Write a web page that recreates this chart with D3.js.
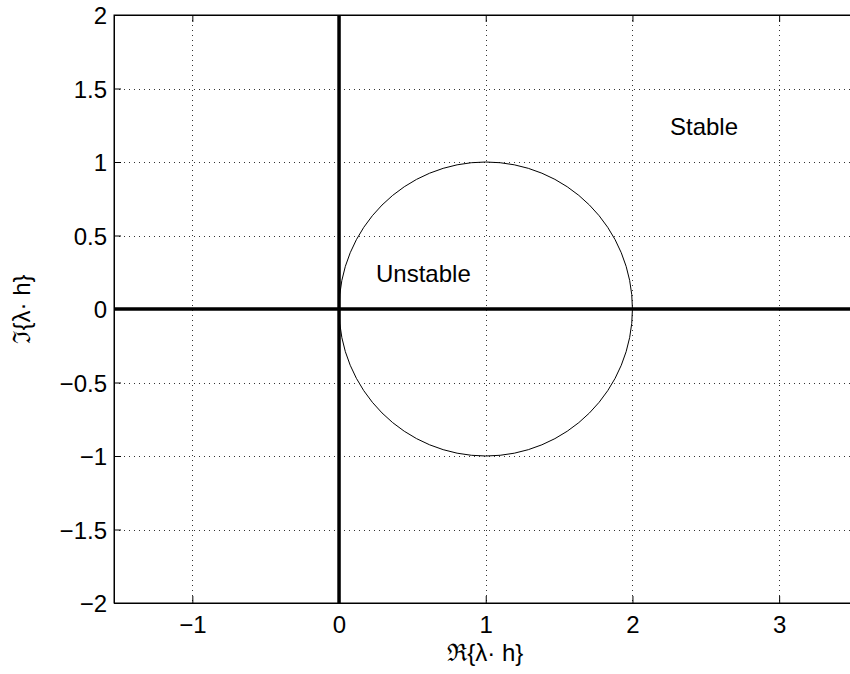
<!DOCTYPE html>
<html>
<head>
<meta charset="utf-8">
<script src="https://cdn.jsdelivr.net/npm/d3@7/dist/d3.min.js"></script>
<style>
  html, body { margin: 0; padding: 0; background: #fff; }
  svg { display: block; }
  text { font-family: "Liberation Sans", Arial, Helvetica, sans-serif; fill: #000; }
</style>
</head>
<body>
<svg id="chart" width="850" height="674"></svg>
<script>
// Axis limits and ticks
const xDomain = [-1.534, 3.5];
const yDomain = [-2, 2];
const xTicks = [-1, 0, 1, 2, 3];
const yTicks = [-2, -1.5, -1, -0.5, 0, 0.5, 1, 1.5, 2];

// Stability boundary: circle in the λh-plane
const circleCenter = [1, 0];
const circleRadius = 1;

// Region labels
const regionLabels = [
  { text: "Unstable", x: 0.252, y: 0.186 },
  { text: "Stable", x: 2.256, y: 1.184 }
];

const xLabel = "ℜ{λ· h}";
const yLabel = "ℑ{λ· h}";

const box = { left: 114, right: 852.5, top: 15, bottom: 603 };
const fontSize = 24;

const svg = d3.select("#chart");
const x = d3.scaleLinear().domain(xDomain).range([box.left, box.right]);
const y = d3.scaleLinear().domain(yDomain).range([box.bottom, box.top]);

const fmt = v => (v < 0 ? "\u2212" + Math.abs(v) : String(v));

// Dotted grid
const grid = svg.append("g").attr("stroke", "#000").attr("stroke-width", 1)
  .attr("stroke-dasharray", "1,4").attr("opacity", 0.8);
grid.selectAll("line.gx").data(xTicks).join("line")
  .attr("x1", d => Math.round(x(d)) + 0.5).attr("x2", d => Math.round(x(d)) + 0.5)
  .attr("y1", box.top).attr("y2", box.bottom);
grid.selectAll("line.gy").data(yTicks).join("line")
  .attr("y1", d => Math.round(y(d)) + 0.5).attr("y2", d => Math.round(y(d)) + 0.5)
  .attr("x1", box.left).attr("x2", box.right);

// Circle boundary
svg.append("ellipse")
  .attr("cx", x(circleCenter[0])).attr("cy", y(circleCenter[1]))
  .attr("rx", x(circleCenter[0] + circleRadius) - x(circleCenter[0]))
  .attr("ry", y(circleCenter[1]) - y(circleCenter[1] + circleRadius))
  .attr("fill", "none").attr("stroke", "#000").attr("stroke-width", 1);

// Real and imaginary axes
svg.append("line")
  .attr("x1", box.left).attr("x2", box.right)
  .attr("y1", y(0)).attr("y2", y(0))
  .attr("stroke", "#000").attr("stroke-width", 3.5);
svg.append("line")
  .attr("x1", x(0)).attr("x2", x(0))
  .attr("y1", box.top).attr("y2", box.bottom)
  .attr("stroke", "#000").attr("stroke-width", 3.5);

// Axes with inward ticks
const tickLen = 7;
const xAxisB = d3.axisBottom(x).tickValues(xTicks).tickSizeInner(-tickLen).tickSizeOuter(0)
  .tickPadding(13).tickFormat(fmt);
const xAxisT = d3.axisTop(x).tickValues(xTicks).tickSizeInner(-tickLen).tickSizeOuter(0)
  .tickFormat("");
const yAxisL = d3.axisLeft(y).tickValues(yTicks).tickSizeInner(-tickLen).tickSizeOuter(0)
  .tickPadding(7).tickFormat(fmt);

const gb = svg.append("g").attr("transform", `translate(0,${box.bottom})`).call(xAxisB);
const gt = svg.append("g").attr("transform", `translate(0,${box.top})`).call(xAxisT);
const gl = svg.append("g").attr("transform", `translate(${box.left},0)`).call(yAxisL);

[gb, gt, gl].forEach(g => {
  g.select(".domain").attr("stroke", "#000").attr("stroke-width", 1);
  g.selectAll(".tick line").attr("stroke", "#000").attr("stroke-width", 1);
  g.selectAll(".tick text").attr("font-size", fontSize)
    .attr("font-family", "'Liberation Sans', Arial, sans-serif").attr("fill", "#000");
});
gl.selectAll(".tick text").attr("dy", "0.36em");

// Box edges
svg.append("rect")
  .attr("x", box.left).attr("y", box.top)
  .attr("width", box.right - box.left).attr("height", box.bottom - box.top)
  .attr("fill", "none").attr("stroke", "#000").attr("stroke-width", 1);

// Region labels
svg.selectAll("text.region").data(regionLabels).join("text")
  .attr("class", "region")
  .attr("x", d => x(d.x)).attr("y", d => y(d.y))
  .attr("font-size", fontSize)
  .text(d => d.text);

// Axis titles
svg.append("text")
  .attr("x", (box.left + box.right) / 2 + 2).attr("y", 661)
  .attr("text-anchor", "middle").attr("font-size", fontSize)
  .text(xLabel);
svg.append("text")
  .attr("transform", `translate(30,${(box.top + box.bottom) / 2}) rotate(-90)`)
  .attr("text-anchor", "middle").attr("font-size", fontSize)
  .text(yLabel);
</script>
</body>
</html>
